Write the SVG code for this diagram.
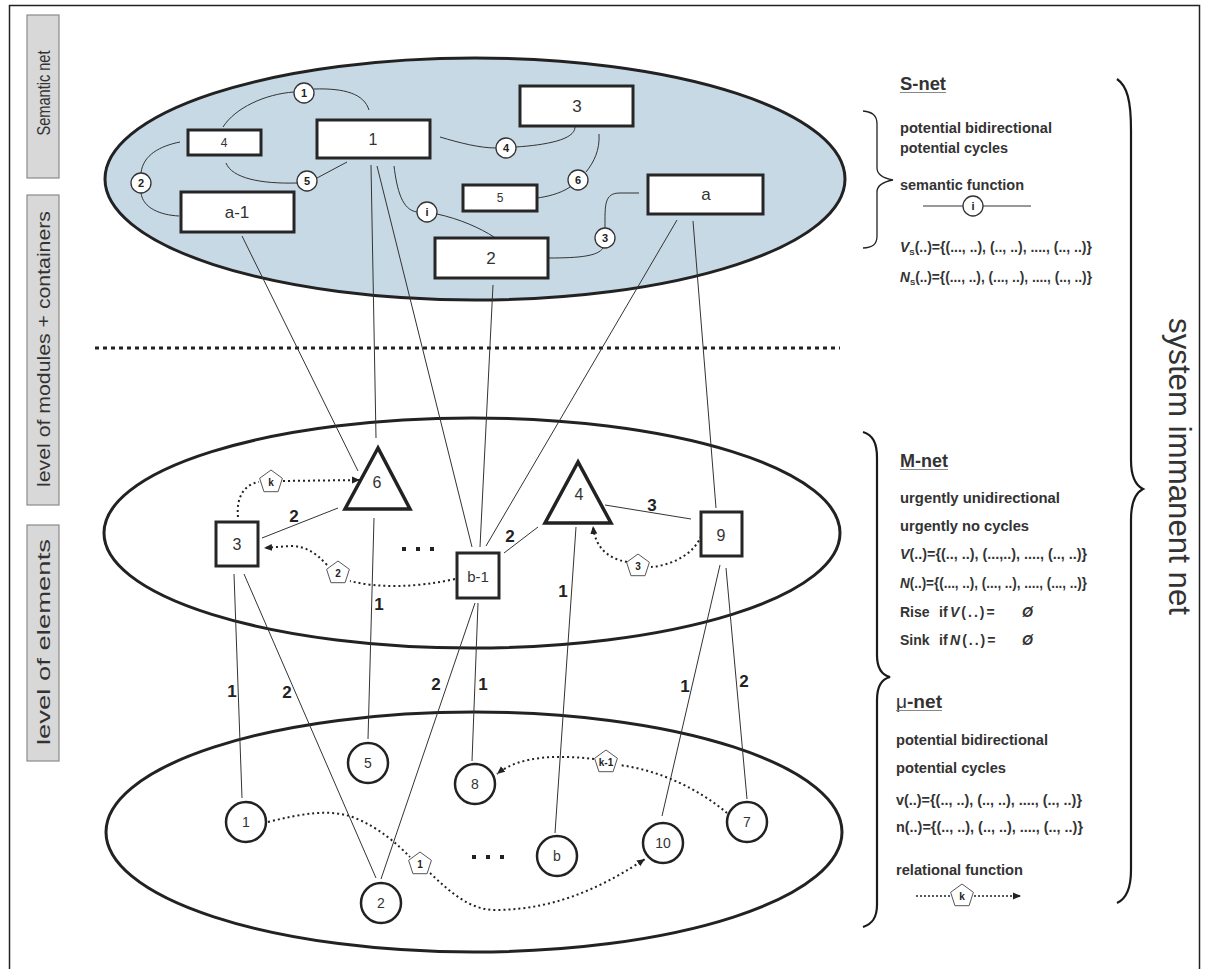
<svg xmlns="http://www.w3.org/2000/svg" width="1205" height="969" viewBox="0 0 1205 969">
<defs>
<style>
.frame{fill:none;stroke:#222;stroke-width:1.5}
.lbl{fill:#d8d8d8;stroke:#8a8a8a;stroke-width:1.2}
.lbltxt{font-family:"Liberation Sans",Arial,sans-serif;font-size:18px;fill:#333}
.ell{stroke:#222;stroke-width:3}
.rect{fill:#fff;stroke:#262626;stroke-width:3}
.sc{fill:#fff;stroke:#333;stroke-width:1.3}
.sct{font-family:"Liberation Sans",Arial,sans-serif;font-size:11px;font-weight:bold;fill:#222;text-anchor:middle}
.nt{font-family:"Liberation Sans",Arial,sans-serif;fill:#333;text-anchor:middle}
.ln{fill:none;stroke:#333;stroke-width:1}
.dot{fill:none;stroke:#222;stroke-width:2;stroke-dasharray:2 3}
.pent{fill:#fff;stroke:#555;stroke-width:1}
.pt{font-family:"Liberation Sans",Arial,sans-serif;font-size:10px;font-weight:bold;fill:#222;text-anchor:middle}
.el{font-family:"Liberation Sans",Arial,sans-serif;font-size:17px;font-weight:bold;fill:#222;text-anchor:middle}
.tri{fill:#fff;stroke:#222;stroke-width:3.5;stroke-linejoin:miter}
.sq{fill:#fff;stroke:#262626;stroke-width:3}
.cir{fill:#fff;stroke:#222;stroke-width:2.5}
.rt{font-family:"Liberation Sans",Arial,sans-serif;font-size:14px;font-weight:bold;fill:#333}
.hd{font-family:"Liberation Sans",Arial,sans-serif;font-size:18px;font-weight:bold;fill:#333}
.ul{stroke:#888;stroke-width:1}
.brace{fill:none;stroke:#222;stroke-width:1.3}
.bbrace{fill:none;stroke:#1a1a1a;stroke-width:2.2}
.sq3{fill:#222}
</style>
<marker id="arr" markerWidth="9" markerHeight="8" refX="8" refY="4" orient="auto" markerUnits="userSpaceOnUse">
<path d="M0,0.5 L8,4 L0,7.5 z" fill="#222"/>
</marker>
<polygon id="pent" points="0,-12 11.4,-3.7 7.05,9.7 -7.05,9.7 -11.4,-3.7"/>
</defs>

<rect class="frame" x="9.5" y="5.5" width="1190" height="1000"/>

<g id="side-labels">
<rect class="lbl" x="27" y="15" width="32" height="163"/>
<text class="lbltxt" transform="translate(50,93) rotate(-90)" text-anchor="middle" textLength="85" lengthAdjust="spacingAndGlyphs">Semantic net</text>
<rect class="lbl" x="27" y="195" width="32" height="310"/>
<text class="lbltxt" transform="translate(50,349) rotate(-90)" text-anchor="middle" textLength="276" lengthAdjust="spacingAndGlyphs">level of modules + containers</text>
<rect class="lbl" x="27" y="525" width="32" height="236"/>
<text class="lbltxt" transform="translate(50,642) rotate(-90)" text-anchor="middle" textLength="206" lengthAdjust="spacingAndGlyphs">level of elements</text>
</g>

<line x1="95" y1="348" x2="840" y2="348" stroke="#222" stroke-width="3" stroke-dasharray="4 4"/>

<g id="ellipses">
<ellipse class="ell" cx="475" cy="179" rx="370" ry="121" fill="#c8d9e6"/>
<ellipse class="ell" cx="472" cy="533" rx="368" ry="115" fill="none"/>
<ellipse class="ell" cx="474" cy="832" rx="368" ry="120" fill="none"/>
</g>

<g id="connectors">
<path class="ln" d="M223,127 C235,108 265,94 294,92"/>
<path class="ln" d="M314,89 C345,88 364,94 369,110"/>
<path class="ln" d="M180,142 C160,146 143,155 141,173"/>
<path class="ln" d="M141,193 C143,208 160,215 179,216"/>
<path class="ln" d="M226,163 C232,178 260,184 297,183"/>
<path class="ln" d="M317,178 L347,162"/>
<path class="ln" d="M394,166 C397,190 402,210 417,212"/>
<path class="ln" d="M437,214 C460,219 480,228 494,237"/>
<path class="ln" d="M440,137 C460,143 480,148 496,148"/>
<path class="ln" d="M516,147 C545,145 575,140 575,127"/>
<path class="ln" d="M599,134 C600,150 594,162 586,172"/>
<path class="ln" d="M570,187 C560,194 545,197 537,198"/>
<path class="ln" d="M549,258 C580,258 598,256 603,248"/>
<path class="ln" d="M605,228 C605,205 604,193 620,193 L639,193"/>
<line class="ln" x1="242" y1="236" x2="358" y2="471"/>
<line class="ln" x1="371" y1="165" x2="376" y2="438"/>
<line class="ln" x1="377" y1="166" x2="472" y2="547"/>
<line class="ln" x1="493" y1="285" x2="480" y2="547"/>
<line class="ln" x1="677" y1="220" x2="486" y2="546"/>
<line class="ln" x1="693" y1="221" x2="716" y2="508"/>
<line class="ln" x1="338" y1="508" x2="262" y2="538"/>
<line class="ln" x1="504" y1="553" x2="538" y2="527"/>
<line class="ln" x1="605" y1="505" x2="691" y2="519"/>
<line class="ln" x1="234" y1="574" x2="242" y2="798"/>
<line class="ln" x1="244" y1="574" x2="376" y2="878"/>
<line class="ln" x1="374" y1="518" x2="368" y2="739"/>
<line class="ln" x1="475" y1="603" x2="381" y2="879"/>
<line class="ln" x1="478" y1="603" x2="472" y2="761"/>
<line class="ln" x1="576" y1="527" x2="555" y2="833"/>
<line class="ln" x1="720" y1="565" x2="662" y2="816"/>
<line class="ln" x1="726" y1="568" x2="747" y2="799"/>
<path class="dot" d="M238,517 C236,498 244,484 259,482"/>
<path class="dot" d="M283,481 L360,480" marker-end="url(#arr)"/>
<path class="dot" d="M455,579 Q395,592 350,581"/>
<path class="dot" d="M327,565 C315,552 305,546 290,546 L264,548" marker-end="url(#arr)"/>
<path class="dot" d="M701,536 C695,552 675,565 651,567"/>
<path class="dot" d="M627,562 C605,558 595,545 593,526" marker-end="url(#arr)"/>
<path class="dot" d="M268,822 C300,814 330,808 355,818 C380,828 398,845 410,857"/>
<path class="dot" d="M430,873 C450,892 470,910 495,910 C560,910 610,882 645,859" marker-end="url(#arr)"/>
<path class="dot" d="M727,813 C700,790 660,770 619,765"/>
<path class="dot" d="M594,759 C560,755 520,755 497,774" marker-end="url(#arr)"/>
<text class="el" x="294" y="522">2</text>
<text class="el" x="379" y="610">1</text>
<text class="el" x="510" y="542">2</text>
<text class="el" x="652" y="511">3</text>
<text class="el" x="563" y="597">1</text>
<text class="el" x="232" y="697">1</text>
<text class="el" x="287" y="698">2</text>
<text class="el" x="436" y="690">2</text>
<text class="el" x="483" y="690">1</text>
<text class="el" x="685" y="692">1</text>
<text class="el" x="744" y="687">2</text>
</g>

<g id="sem-circles">
<circle class="sc" cx="304" cy="93" r="10"/><text class="sct" x="304" y="97">1</text>
<circle class="sc" cx="141" cy="183" r="10"/><text class="sct" x="141" y="187">2</text>
<circle class="sc" cx="307" cy="181" r="10"/><text class="sct" x="307" y="185">5</text>
<circle class="sc" cx="427" cy="212" r="10"/><text class="sct" x="427" y="216">i</text>
<circle class="sc" cx="506" cy="148" r="10"/><text class="sct" x="506" y="152">4</text>
<circle class="sc" cx="578" cy="180" r="10"/><text class="sct" x="578" y="184">6</text>
<circle class="sc" cx="605" cy="238" r="10"/><text class="sct" x="605" y="242">3</text>
</g>

<g id="s-node-1"><rect class="rect" x="317" y="120" width="113" height="38"/><text class="nt" x="373" y="145" font-size="16">1</text></g>
<g id="s-node-4"><rect class="rect" x="188" y="130" width="73" height="25" stroke-width="2.5"/><text class="nt" x="224" y="147" font-size="12">4</text></g>
<g id="s-node-a-1"><rect class="rect" x="181" y="192" width="113" height="40"/><text class="nt" x="237" y="218" font-size="17">a-1</text></g>
<g id="s-node-2"><rect class="rect" x="435" y="238" width="113" height="40"/><text class="nt" x="491" y="264" font-size="17">2</text></g>
<g id="s-node-3"><rect class="rect" x="520" y="86" width="113" height="40"/><text class="nt" x="577" y="112" font-size="17">3</text></g>
<g id="s-node-5"><rect class="rect" x="463" y="185" width="74" height="26" stroke-width="2.5"/><text class="nt" x="500" y="202" font-size="12">5</text></g>
<g id="s-node-a"><rect class="rect" x="648" y="175" width="115" height="39"/><text class="nt" x="706" y="200" font-size="17">a</text></g>

<g id="m-node-6"><polygon class="tri" points="378,448 345,509 410,509"/><text class="nt" x="377" y="488" font-size="16">6</text></g>
<g id="m-node-4"><polygon class="tri" points="578,462 545,523 611,523"/><text class="nt" x="579" y="500" font-size="16">4</text></g>
<g id="m-node-3"><rect class="sq" x="216" y="522" width="42" height="44"/><text class="nt" x="237" y="550" font-size="16">3</text></g>
<g id="m-node-b-1"><rect class="sq" x="457" y="553" width="42" height="45" stroke-width="2.5"/><text class="nt" x="478" y="582" font-size="15">b-1</text></g>
<g id="m-node-9"><rect class="sq" x="701" y="512" width="41" height="44"/><text class="nt" x="721" y="541" font-size="16">9</text></g>

<g id="ellipsis-dots">
<rect class="sq3" x="402" y="547" width="4" height="4"/><rect class="sq3" x="416" y="547" width="4" height="4"/><rect class="sq3" x="430" y="547" width="4" height="4"/>
<rect class="sq3" x="472" y="855" width="4" height="4"/><rect class="sq3" x="486" y="855" width="4" height="4"/><rect class="sq3" x="500" y="855" width="4" height="4"/>
</g>

<g id="e-node-1"><circle class="cir" cx="246" cy="822" r="20"/><text class="nt" x="246" y="827" font-size="14">1</text></g>
<g id="e-node-2"><circle class="cir" cx="381" cy="903" r="20"/><text class="nt" x="381" y="908" font-size="14">2</text></g>
<g id="e-node-5"><circle class="cir" cx="368" cy="763" r="20"/><text class="nt" x="368" y="768" font-size="14">5</text></g>
<g id="e-node-8"><circle class="cir" cx="475" cy="784" r="20"/><text class="nt" x="475" y="789" font-size="14">8</text></g>
<g id="e-node-b"><circle class="cir" cx="557" cy="856" r="20"/><text class="nt" x="557" y="861" font-size="14">b</text></g>
<g id="e-node-10"><circle class="cir" cx="663" cy="843" r="20"/><text class="nt" x="663" y="848" font-size="14">10</text></g>
<g id="e-node-7"><circle class="cir" cx="747" cy="822" r="20"/><text class="nt" x="747" y="827" font-size="14">7</text></g>

<g id="pentagons">
<use href="#pent" class="pent" x="271" y="482"/><text class="pt" x="271" y="486">k</text>
<use href="#pent" class="pent" x="338" y="573"/><text class="pt" x="338" y="577">2</text>
<use href="#pent" class="pent" x="638" y="566"/><text class="pt" x="638" y="570">3</text>
<use href="#pent" class="pent" x="420" y="864"/><text class="pt" x="420" y="868">1</text>
<use href="#pent" class="pent" x="606" y="762"/><text class="pt" x="606" y="766" font-size="9">k-1</text>
</g>

<g id="s-net-legend">
<text class="hd" x="900" y="90" textLength="46" lengthAdjust="spacingAndGlyphs">S-net</text>
<line class="ul" x1="900" y1="92.5" x2="946" y2="92.5"/>
<path class="brace" d="M863,111 C872,112 877,115 877,124 L877,168 C877,174 882,178 893,180 C882,182 877,186 877,192 L877,236 C877,245 872,248 863,248"/>
<text class="rt" x="900" y="133" textLength="152" lengthAdjust="spacingAndGlyphs">potential bidirectional</text>
<text class="rt" x="900" y="153" textLength="108" lengthAdjust="spacingAndGlyphs">potential cycles</text>
<text class="rt" x="900" y="190" textLength="124" lengthAdjust="spacingAndGlyphs">semantic function</text>
<line class="ln" x1="923" y1="206" x2="963" y2="206"/>
<line class="ln" x1="983" y1="206" x2="1031" y2="206"/>
<circle class="sc" cx="973" cy="206" r="10"/><text class="sct" x="973" y="210" font-weight="normal">i</text>
<text class="rt" x="900" y="252" font-size="13" textLength="192" lengthAdjust="spacingAndGlyphs"><tspan font-style="italic">V</tspan><tspan font-size="8" dy="3">S</tspan><tspan dy="-3">(..)={(..., ..), (.., ..), ...., (.., ..)}</tspan></text>
<text class="rt" x="900" y="282" font-size="13" textLength="192" lengthAdjust="spacingAndGlyphs"><tspan font-style="italic">N</tspan><tspan font-size="8" dy="3">S</tspan><tspan dy="-3">(..)={(..., ..), (..., ..), ...., (.., ..)}</tspan></text>
</g>

<g id="m-net-legend">
<path class="bbrace" d="M863,432 C873,435 877,443 877,458 L877,655 C877,668 882,675 890,677 C882,679 877,686 877,700 L877,905 C877,918 872,924 863,927"/>
<text class="hd" x="900" y="467" textLength="48" lengthAdjust="spacingAndGlyphs">M-net</text>
<line class="ul" x1="900" y1="469.5" x2="948" y2="469.5"/>
<text class="rt" x="900" y="503" textLength="160" lengthAdjust="spacingAndGlyphs">urgently unidirectional</text>
<text class="rt" x="900" y="531" textLength="129" lengthAdjust="spacingAndGlyphs">urgently no cycles</text>
<text class="rt" x="900" y="559" font-size="13" textLength="187" lengthAdjust="spacingAndGlyphs"><tspan font-style="italic">V</tspan>(..)={(.., ..), (...,..), ...., (.., ..)}</text>
<text class="rt" x="900" y="588" font-size="13" textLength="187" lengthAdjust="spacingAndGlyphs"><tspan font-style="italic">N</tspan>(..)={(..., ..), (..., ..), ...., (..., ..)}</text>
<text class="rt" x="900" y="617">Rise</text>
<text class="rt" x="939" y="617">if</text>
<text class="rt" x="950" y="617" letter-spacing="2"><tspan font-style="italic">V</tspan>(..)=</text>
<text class="rt" x="1022" y="617" font-style="italic">Ø</text>
<text class="rt" x="900" y="645">Sink</text>
<text class="rt" x="939" y="645">if</text>
<text class="rt" x="950" y="645" letter-spacing="2"><tspan font-style="italic">N</tspan>(..)=</text>
<text class="rt" x="1022" y="645" font-style="italic">Ø</text>
</g>

<g id="mu-net-legend">
<text class="hd" x="896" y="708" textLength="46" lengthAdjust="spacingAndGlyphs"><tspan font-weight="normal">μ</tspan>-net</text>
<line class="ul" x1="896" y1="710.5" x2="942" y2="710.5"/>
<text class="rt" x="896" y="745" textLength="152" lengthAdjust="spacingAndGlyphs">potential bidirectional</text>
<text class="rt" x="896" y="773" textLength="110" lengthAdjust="spacingAndGlyphs">potential cycles</text>
<text class="rt" x="896" y="805" font-size="13" textLength="186" lengthAdjust="spacingAndGlyphs">v(..)={(.., ..), (.., ..), ...., (.., ..)}</text>
<text class="rt" x="896" y="832" font-size="13" textLength="187" lengthAdjust="spacingAndGlyphs">n(..)={(.., ..), (.., ..), ...., (.., ..)}</text>
<text class="rt" x="896" y="875" textLength="127" lengthAdjust="spacingAndGlyphs">relational function</text>
<path d="M916,896 L950,896" fill="none" stroke="#222" stroke-width="1.6" stroke-dasharray="2 2"/>
<path d="M974,896 L1021,896" fill="none" stroke="#222" stroke-width="1.6" stroke-dasharray="2 2" marker-end="url(#arr)"/>
<use href="#pent" class="pent" x="962" y="896"/><text class="pt" x="962" y="900">k</text>
</g>

<g id="system-immanent-net">
<path class="bbrace" d="M1117,79 C1127,86 1131,100 1131,130 L1131,460 C1131,475 1135,485 1143,489 C1135,493 1131,503 1131,520 L1131,870 C1131,890 1126,899 1117,903"/>
<text transform="translate(1169,318) rotate(90)" font-family="'Liberation Sans',Arial,sans-serif" font-size="32" fill="#333" textLength="297" lengthAdjust="spacingAndGlyphs">system immanent net</text>
</g>
</svg>
